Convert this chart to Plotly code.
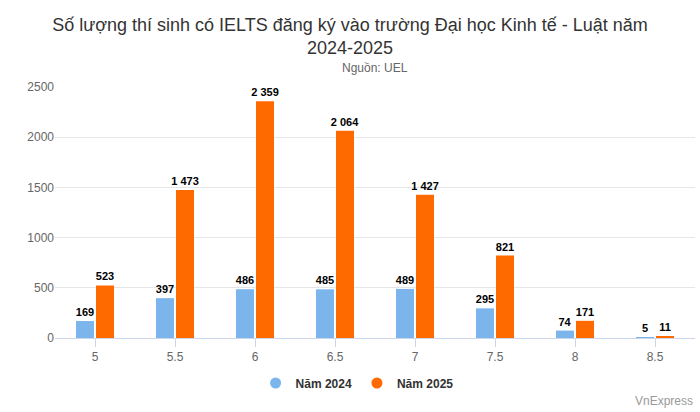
import plotly.graph_objects as go

categories = ["5", "5.5", "6", "6.5", "7", "7.5", "8", "8.5"]
y2024 = [169, 397, 486, 485, 489, 295, 74, 5]
y2025 = [523, 1473, 2359, 2064, 1427, 821, 171, 11]

def fmt(v):
    return f"{v:,}".replace(",", " ")

def py(p):  # pixel row -> paper y
    return (338 - p) / 251

fig = go.Figure()
series = [("Năm 2024", y2024, "#7cb5ec"), ("Năm 2025", y2025, "#ff6a00")]
for name, vals, col in series:
    fig.add_trace(go.Bar(
        x=categories, y=vals, name=name, marker_color=col, marker_line_width=0,
        text=[fmt(v) for v in vals], textposition="outside", cliponaxis=False,
        constraintext="none", showlegend=False,
        textfont=dict(family="Arial, Liberation Sans", size=11, color="black", weight="bold"),
    ))
for name, vals, col in series:
    fig.add_trace(go.Scatter(x=[None], y=[None], mode="markers", name=name,
                             marker=dict(color=col, size=11, symbol="circle")))

fig.update_layout(
    width=700, height=412, paper_bgcolor="white", plot_bgcolor="white",
    margin=dict(l=55, r=5, t=87, b=74, autoexpand=False),
    barmode="group", bargap=0.5, bargroupgap=0.1,
    font=dict(family="Liberation Sans, Arial", color="#333"),
    title=dict(text="Số lượng thí sinh có IELTS đăng ký vào trường Đại học Kinh tế - Luật năm<br>2024-2025",
               x=0.5, xanchor="center", xref="container", y=(412-31)/412, yref="container",
               yanchor="middle", font=dict(size=18, color="#333")),
    legend=dict(orientation="h", x=0.472, xanchor="center", y=(412-383)/412, yref="container",
                yanchor="middle", font=dict(size=12, color="#333", weight="bold")),
    xaxis=dict(showline=True, linecolor="#ccd6eb", ticks="outside", tickcolor="#ccd6eb",
               ticklen=8, tickfont=dict(size=12, color="#666")),
    yaxis=dict(range=[0, 2500], dtick=500, gridcolor="#e6e6e6", zeroline=False,
               tickfont=dict(size=12, color="#666"), tickformat="d"),
    annotations=[
        dict(text="Nguồn: UEL", x=0.5, xref="paper", y=py(68), yref="paper",
             xanchor="center", yanchor="middle", showarrow=False,
             font=dict(size=12, color="#666")),
        dict(text="VnExpress", x=1.0, xref="paper", xanchor="right", y=py(401), yref="paper",
             yanchor="middle", showarrow=False, font=dict(size=12, color="#999")),
    ],
)
fig.write_html("out.html", config={"displayModeBar": False},
               post_script="document.body.style.margin='0';")
